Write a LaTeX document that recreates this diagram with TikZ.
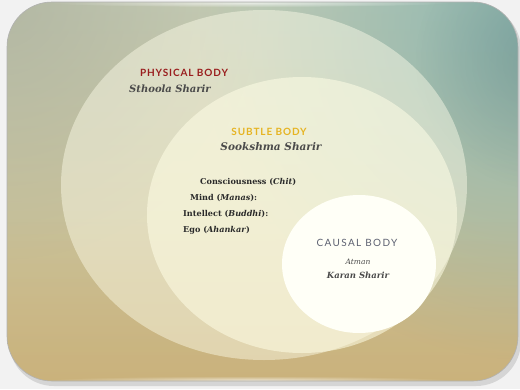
\documentclass[tikz,border=0pt]{standalone}
\usepackage{fontspec}
\setmainfont{DejaVu Serif}
\newfontfamily\headfont[LetterSpace=9]{Lato}
\newfontfamily\causfont[LetterSpace=14]{Lato}
\usetikzlibrary{fadings}
\definecolor{bgout}{HTML}{F2F2F2}
\definecolor{topc}{HTML}{C6CDB6}
\definecolor{botc}{HTML}{CCB984}
\definecolor{tl}{HTML}{ABAF9C}
\definecolor{teal}{HTML}{8CB6B0}
\definecolor{physred}{HTML}{9A1E1E}
\definecolor{subgold}{HTML}{E6B422}
\definecolor{causgray}{HTML}{5E6272}
\definecolor{txt}{HTML}{2A2A2A}
\tikzfading[name=softcirc, inner color=transparent!0, outer color=transparent!100]
\tikzset{
  head/.style={font=\headfont\bfseries\fontsize{10}{12}\selectfont, inner sep=0pt},
  sanskrit/.style={font=\itshape\bfseries\fontsize{10}{12}\selectfont, text=txt!85, inner sep=0pt},
  item/.style={font=\bfseries\fontsize{8.1}{10}\selectfont, text=txt, inner sep=0pt, anchor=west},
}
\begin{document}
\begin{tikzpicture}[x=1pt,y=-1pt]
\useasboundingbox (0,0) rectangle (520,389);
\fill[bgout] (0,0) rectangle (520,389);
% shadow
\fill[black!30, opacity=0.45, rounded corners=45pt] (9,5) rectangle (521,386);
% panel
\begin{scope}
\clip[rounded corners=45pt] (7,2) rectangle (518,381);
\shade[top color=topc, bottom color=botc] (7,2) rectangle (518,381);
\fill[tl, opacity=0.7, path fading=softcirc] (0,0) circle [radius=260];
\fill[teal, path fading=softcirc] (530,30) circle [radius=330];
\fill[teal!60!black, opacity=0.3, path fading=softcirc] (545,60) circle [radius=130];
\fill[brown!60!botc, opacity=0.2, path fading=north] (7,220) rectangle (518,381);
% ellipses
\fill[white!92!yellow, opacity=0.45] (264,185) ellipse [x radius=203, y radius=175];
\fill[white!90!yellow, opacity=0.55] (302,215) ellipse [x radius=155, y radius=138];
\fill[white!97!yellow] (359,264) ellipse [x radius=77, y radius=69];
% gloss
\fill[white, opacity=0.6, path fading=softcirc] (250,3) ellipse [x radius=200, y radius=4];
\fill[white, opacity=0.6, path fading=softcirc] (250,380) ellipse [x radius=200, y radius=4];
\end{scope}
\draw[black!30, line width=0.6pt, rounded corners=45pt] (7,2) rectangle (518,381);
% texts
\node[head, text=physred] (phys) at (184,73) {PHYSICAL BODY};
\node[sanskrit] (sthoola) at (170,89) {Sthoola Sharir};
\node[head, text=subgold] (subtle) at (269,132) {SUBTLE BODY};
\node[sanskrit, font=\itshape\bfseries\fontsize{10.5}{12}\selectfont] (sook) at (271,147) {Sookshma Sharir};
\node[item] (c1) at (200,182) {Consciousness (\textit{Chit})};
\node[item] (c2) at (190,198) {Mind (\textit{Manas}):};
\node[item] (c3) at (183,214) {Intellect (\textit{Buddhi}):};
\node[item] (c4) at (183,230) {Ego (\textit{Ahankar})};
\node[inner sep=0pt, text=causgray, font=\causfont\fontsize{10}{12}\selectfont] (causal) at (357,243) {CAUSAL BODY};
\node[sanskrit, font=\itshape\fontsize{7.5}{9}\selectfont] (atman) at (358,262) {Atman};
\node[sanskrit, font=\itshape\bfseries\fontsize{8.5}{10}\selectfont] (karan) at (358,275) {Karan Sharir};
\end{tikzpicture}
\end{document}
